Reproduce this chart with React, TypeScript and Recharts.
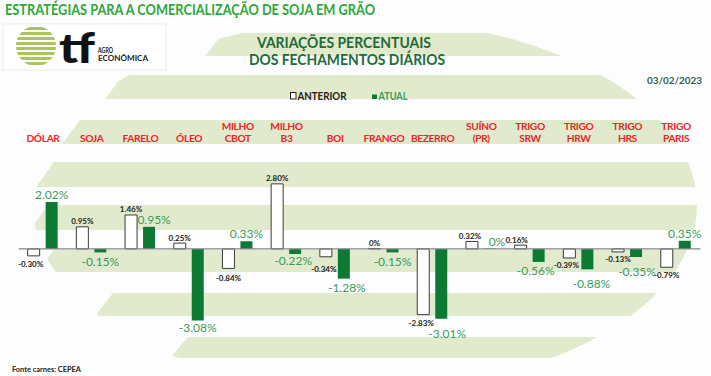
import React from 'react';
import { BarChart, Bar, XAxis, YAxis, ReferenceLine, LabelList } from 'recharts';

const categories = ['DÓLAR', 'SOJA', 'FARELO', 'ÓLEO', 'MILHO CBOT', 'MILHO B3', 'BOI', 'FRANGO', 'BEZERRO', 'SUÍNO (PR)', 'TRIGO SRW', 'TRIGO HRW', 'TRIGO HRS', 'TRIGO PARIS'];
const anterior = [-0.3, 0.95, 1.46, 0.25, -0.84, 2.8, -0.34, 0, -2.83, 0.32, 0.16, -0.39, -0.13, -0.79];
const atual = [2.02, -0.15, 0.95, -3.08, 0.33, -0.22, -1.28, -0.15, -3.01, 0, -0.56, -0.88, -0.35, 0.35];
const seriesNames = ['ANTERIOR', 'ATUAL'];
const yDomain = [-4, 4];

const data = categories.map((name, i) => ({ name, anterior: anterior[i], atual: atual[i] }));

// label nudges (px) copied from the manually placed labels of the original
const atualNudge: Record<number, [number, number]> = {
  2: [5, 0], 3: [0, -2], 5: [-2, -3], 6: [3, -1], 8: [6, 5], 9: [7, 0], 10: [-3, -1], 11: [4, 4.5], 12: [1, 5],
};
const anteriorNudge: Record<number, [number, number]> = {
  0: [-3, 0], 4: [0, 1.5], 6: [-2, 4], 8: [-2, 0], 9: [-2, 0], 10: [-4, 0], 11: [-3, -1], 12: [0, -1],
};

const FONT = 'Lato, "Open Sans", sans-serif';
const GREEN_BAR = '#0c7a32';
const GREEN_LABEL = '#3b9a5c';
const RED = '#e8262c';
const BAND = '#e1eacc';

const fmt = (v: number) => (v === 0 ? '0%' : v.toFixed(2) + '%');

const CatTick = (props: any) => {
  const { x, payload } = props;
  const lines = String(payload.value).split(' ');
  const ys = lines.length === 2 ? [129.5, 142] : [142];
  return (
    <g>
      {lines.map((l, i) => (
        <text key={i} x={x} y={ys[i]} textAnchor="middle" fontFamily={FONT} fontWeight={700} fontSize={10.2} letterSpacing={-0.35} fill={RED}>
          {l}
        </text>
      ))}
    </g>
  );
};

const makeLabel = (isAtual: boolean) => (props: any) => {
  const { x, y, width, height, value, index } = props;
  const v = Number(value);
  const top = Math.min(y, y + height);
  const bottom = Math.max(y, y + height);
  const nudge = (isAtual ? atualNudge : anteriorNudge)[index] || [0, 0];
  const cx = x + width / 2 + nudge[0];
  const ty = (v < 0 ? bottom + (isAtual ? 14 : 11) : top - (isAtual ? 3 : 2.5)) + nudge[1];
  return (
    <text x={cx} y={ty} textAnchor="middle" fontFamily={FONT} fontSize={isAtual ? 12 : 8} fontWeight={isAtual ? 400 : 700} fill={isAtual ? GREEN_LABEL : '#222'}>
      {fmt(v)}
    </text>
  );
};

const bands = [
  { y0: 33, y1: 56, l: 205 },
  { y0: 75, y1: 99, l: 105 },
  { y0: 120, y1: 144, l: 62 },
  { y0: 162, y1: 187, l: 36 },
  { y0: 205, y1: 230, l: 30 },
  { y0: 250, y1: 272, l: 36 },
  { y0: 293, y1: 316, l: 95 },
  { y0: 337, y1: 358, l: 170 },
];

const Background = () => (
  <svg width={711} height={376} style={{ position: 'absolute', left: 0, top: 0 }}>
    <defs>
      <clipPath id="globe">
        <ellipse cx={365} cy={205} rx={332} ry={185} />
      </clipPath>
      <clipPath id="logoClip">
        <circle cx={36} cy={46} r={20} />
      </clipPath>
    </defs>
    <rect x={0} y={0} width={711} height={376} fill="#fdfdfd" />
    <g clipPath="url(#globe)">
      {bands.map((b, i) => (
        <path key={i} d={`M${b.l + 18},${b.y0} L760,${b.y0} L760,${b.y1} L${b.l},${b.y1} Z`} fill={BAND} />
      ))}
    </g>
    <text x={5} y={15} fontFamily={FONT} fontWeight={700} fontSize={14.5} fill="#2ea83a" textLength={370} lengthAdjust="spacingAndGlyphs">
      ESTRATÉGIAS PARA A COMERCIALIZAÇÃO DE SOJA EM GRÃO
    </text>
    <rect x={3} y={24} width={163} height={46} fill="#fff" stroke="#ececec" />
    <g clipPath="url(#logoClip)">
      {[0, 1, 2, 3, 4, 5, 6, 7].map((k) => (
        <rect key={k} x={14} y={27 + k * 5} width={44} height={3} fill="#a9c55c" />
      ))}
    </g>
    <text x={59} y={63} fontFamily={FONT} fontWeight={900} fontSize={42} fill="#111" textLength={36} lengthAdjust="spacingAndGlyphs">tf</text>
    <text x={98} y={53} fontFamily={FONT} fontWeight={700} fontSize={6.5} fill="#222" textLength={15} lengthAdjust="spacingAndGlyphs">AGRO</text>
    <text x={98} y={60.5} fontFamily={FONT} fontWeight={700} fontSize={6.5} fill="#222" textLength={50} lengthAdjust="spacingAndGlyphs">ECONÔMICA</text>
    <text x={257} y={48} fontFamily={FONT} fontWeight={700} fontSize={14.5} fill="#1d6b3a" textLength={174} lengthAdjust="spacingAndGlyphs">VARIAÇÕES PERCENTUAIS</text>
    <text x={249} y={65} fontFamily={FONT} fontWeight={700} fontSize={14.5} fill="#1d6b3a" textLength={196} lengthAdjust="spacingAndGlyphs">DOS FECHAMENTOS DIÁRIOS</text>
    <text x={647} y={84} fontFamily={FONT} fontWeight={700} fontSize={10} fill="#2b5e4c" textLength={55} lengthAdjust="spacingAndGlyphs">03/02/2023</text>
    <rect x={290.5} y={92.5} width={5.5} height={6.5} fill="#fff" stroke="#222" strokeWidth={1} />
    <text x={297.5} y={100} fontFamily={FONT} fontWeight={700} fontSize={10.5} fill="#222" textLength={49} lengthAdjust="spacingAndGlyphs">{seriesNames[0]}</text>
    <rect x={372} y={94.5} width={5} height={4.5} fill={GREEN_BAR} />
    <text x={378.5} y={100} fontFamily={FONT} fontWeight={700} fontSize={10.5} fill={GREEN_LABEL} textLength={29} lengthAdjust="spacingAndGlyphs">{seriesNames[1]}</text>
    <text x={12} y={372} fontFamily={FONT} fontWeight={700} fontSize={8} fill="#222" textLength={69} lengthAdjust="spacingAndGlyphs">Fonte carnes: CEPEA</text>
  </svg>
);

export default function App() {
  return (
    <div style={{ position: 'absolute', left: 0, top: 0, width: 711, height: 376, overflow: 'hidden', background: '#fff' }}>
      <Background />
      <div style={{ position: 'absolute', left: 0, top: 0, width: 711, height: 376 }}>
        <BarChart
          width={711}
          height={376}
          data={data}
          margin={{ top: 136, right: 10.55, bottom: 34.2, left: 18.65 }}
          barSize={12}
          barGap={6}
        >
          <XAxis dataKey="name" orientation="top" height={20} axisLine={false} tickLine={false} interval={0} tick={<CatTick />} />
          <YAxis hide domain={yDomain} />
          <Bar dataKey="anterior" name={seriesNames[0]} fill="#ffffff" stroke="#3a3a3a" strokeWidth={1} minPointSize={0.4} isAnimationActive={false}>
            <LabelList dataKey="anterior" content={makeLabel(false)} />
          </Bar>
          <Bar dataKey="atual" name={seriesNames[1]} fill={GREEN_BAR} minPointSize={0.4} isAnimationActive={false}>
            <LabelList dataKey="atual" content={makeLabel(true)} />
          </Bar>
          <ReferenceLine y={0} stroke="#858585" strokeWidth={1.3} />
        </BarChart>
      </div>
    </div>
  );
}
